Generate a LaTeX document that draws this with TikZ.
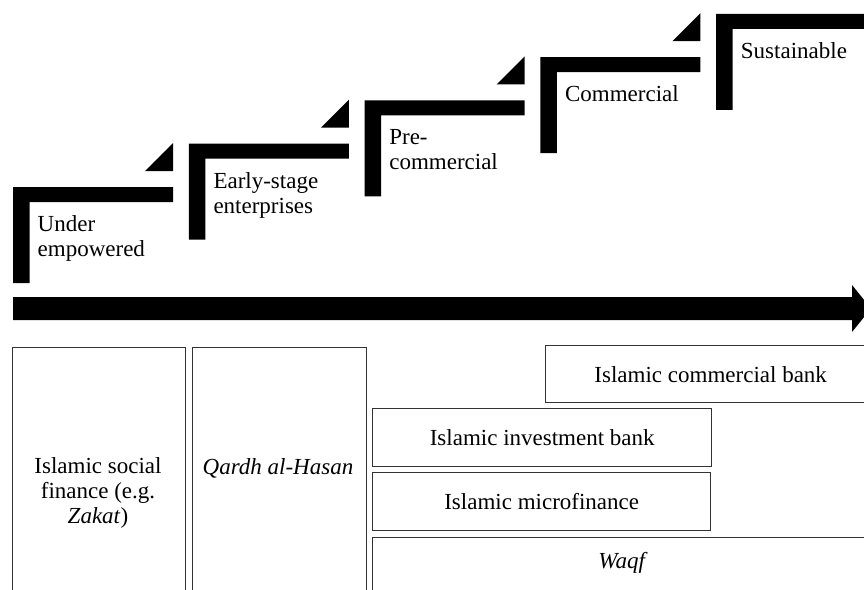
\documentclass[tikz,border=0pt]{standalone}
\usepackage{fontspec}
\setmainfont{Liberation Serif}
\begin{document}
\begin{tikzpicture}[x=1pt,y=-1pt,
  every node/.style={font=\fontsize{23}{25}\selectfont},
  lab/.style={inner sep=0pt, align=left, anchor=base west},
  box/.style={draw=black!80, line width=1.4pt, rectangle, inner sep=0pt},
  ctext/.style={inner sep=0pt, align=center}]
\useasboundingbox (0,0) rectangle (864,589);
\clip (0,0) rectangle (864,589);
% steps
\foreach \i/\n/\lab in {0/1/{Under\\empowered},1/1/{Early-stage\\enterprises},2/1/{Pre-\\commercial},3/0/{Commercial},4/0/{Sustainable}}{
  \pgfmathsetmacro{\xo}{13+175.8*\i}
  \pgfmathsetmacro{\to}{187-43.3*\i}
  \fill (\xo,\to) -- ++(160,0) -- ++(0,15) -- ++(-143.5,0) -- ++(0,81) -- ++(-16.5,0) -- cycle;
  \fill (\xo+132,\to-16) -- (\xo+160,\to-16) -- (\xo+160,\to-44) -- cycle;
  \node[lab] (s\i) at (\xo+24.5,\to+44.5+25*\n) {\lab};
}
% arrow
\fill (13,297) -- (852,297) -- (852,285) -- (871,308.5) -- (852,332) -- (852,320) -- (13,320) -- cycle;
% boxes
\node[box, anchor=north west, minimum width=173pt, minimum height=260pt] (bA) at (12,347) {};
\node[ctext] (tA) at (98,493) {Islamic social\\finance (e.g.\\\textit{Zakat})};
\node[box, anchor=north west, minimum width=174pt, minimum height=260pt] (bB) at (192,347) {};
\node[ctext] (tB) at (278,468) {\textit{Qardh al-Hasan}};
\node[box, anchor=north west, minimum width=330pt, minimum height=57pt] (cb) at (545,345) {Islamic commercial bank};
\node[box, anchor=north west, minimum width=339pt, minimum height=58pt] (ib) at (372,408) {Islamic investment bank};
\node[box, anchor=north west, minimum width=338pt, minimum height=58pt] (mf) at (372,472) {Islamic microfinance};
\node[box, anchor=north west, minimum width=503pt, minimum height=70pt] (wb) at (372,537) {};
\node[ctext] (tw) at (623,563) {\textit{Waqf}};
\end{tikzpicture}
\end{document}
